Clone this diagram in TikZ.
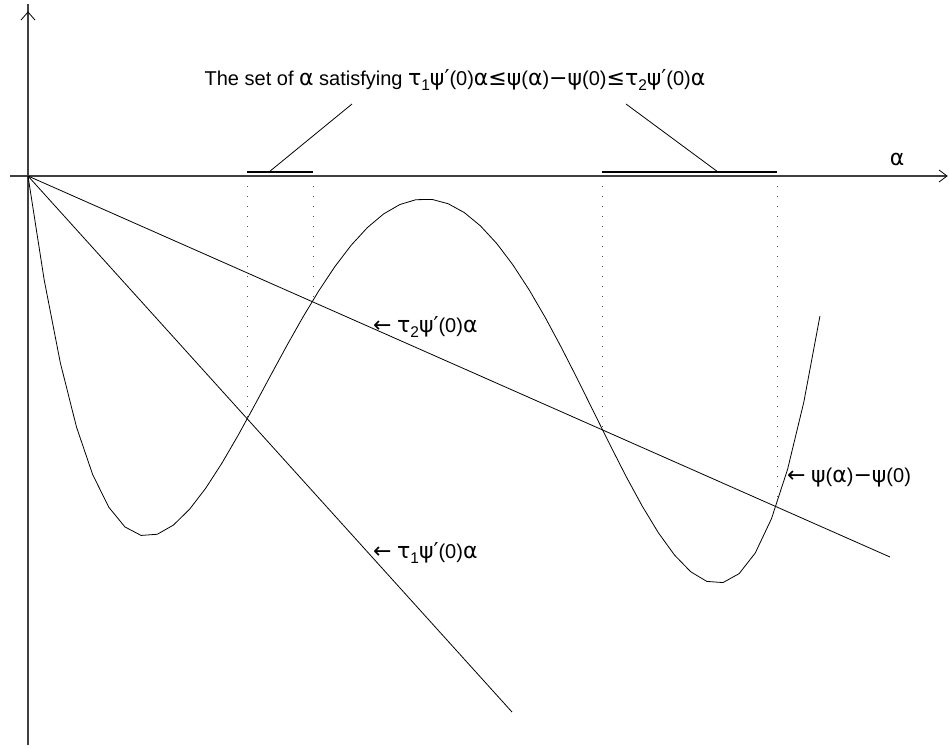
\documentclass[tikz,border=0pt]{standalone}
\usepackage{fontspec}
\setmainfont{Liberation Sans}
\newfontfamily\gkfont{DejaVu Sans}
\usetikzlibrary{calc}
\newcommand\gk[1]{{\gkfont\fontsize{22}{22}\selectfont #1}}
\newcommand\lsub[1]{\raisebox{-5.5pt}{\fontsize{15.5}{15.5}\selectfont #1}}
\begin{document}
\begin{tikzpicture}[x=1pt,y=-1pt,
  thinline/.style={line width=0.8pt, black},
  axisline/.style={line width=1.1pt, black!75},
  barline/.style={line width=1.2pt, black},
  dottedv/.style={line width=0.9pt, dash pattern=on 0.9pt off 9.1pt, black!70},
  lbl/.style={font=\fontsize{20}{20}\selectfont, inner sep=0pt, anchor=west}]
\useasboundingbox (0,0) rectangle (949,748);
% axes
\coordinate (O) at (28,176);
\coordinate (ybot) at (28,745);
\coordinate (ytop) at (28,4);
\coordinate (ytip) at (28,12);
\coordinate (xl) at (10,176);
\coordinate (xr) at (947,176);
\draw[axisline] (ybot) -- (ytop);
\draw[axisline] (xl) -- (xr);
\draw[thinline] ($(ytip)+(-7,8)$) -- (ytip) -- ($(ytip)+(7,8)$);
\draw[thinline] ($(xr)+(-8,-6)$) -- (xr) -- ($(xr)+(-8,6)$);
\node[lbl, anchor=center] (alab) at (897,159) {\gk{α}};
% lines
\coordinate (t1end) at (512,712);
\coordinate (t2end) at (890,557);
\draw[thinline] (O) -- (t1end);
\draw[thinline] (O) -- (t2end);
% curve (quartic)
\draw[thinline] plot[domain=0:7.92, samples=50, variable=\u]
  ({28+100*\u}, {176 - 21.84*(\u^4/4 - 12.05*\u^3/3 + 40.2767*\u^2/2 - 32.550427*\u)});
% dotted verticals
\coordinate (d1) at (247,176); \coordinate (d1b) at (247,418);
\coordinate (d2) at (313,176); \coordinate (d2b) at (313,303);
\coordinate (d3) at (602,176); \coordinate (d3b) at (602,428);
\coordinate (d4) at (777,176); \coordinate (d4b) at (777,506);
\draw[dottedv] (d1) -- (d1b);
\draw[dottedv] (d2) -- (d2b);
\draw[dottedv] (d3) -- (d3b);
\draw[dottedv] (d4) -- (d4b);
% bars
\coordinate (b1l) at (247,172); \coordinate (b1r) at (313,172);
\coordinate (b2l) at (602,172); \coordinate (b2r) at (777,172);
\draw[barline] (b1l) -- (b1r);
\draw[barline] (b2l) -- (b2r);
% title and pointers
\node[lbl, anchor=center] (title) at (455,80) {The set of \gk{α} satisfying \gk{τ}\lsub{1}\gk{ψ′}(0)\gk{α≤ψ}(\gk{α})\gk{−ψ}(0)\gk{≤τ}\lsub{2}\gk{ψ′}(0)\gk{α}};
\coordinate (p1top) at (352,104); \coordinate (p1bot) at (269,172);
\coordinate (p2top) at (626,104); \coordinate (p2bot) at (718,172);
\draw[thinline] (p1top) -- (p1bot);
\draw[thinline] (p2top) -- (p2bot);
% labels
\node[lbl] (l2) at (373,327) {\gk{←} \gk{τ}\lsub{2}\gk{ψ′}(0)\gk{α}};
\node[lbl] (l1) at (373,553) {\gk{←} \gk{τ}\lsub{1}\gk{ψ′}(0)\gk{α}};
\node[lbl] (lp) at (787,478) {\gk{←} \gk{ψ}(\gk{α})\gk{−ψ}(0)};
\end{tikzpicture}
\end{document}
